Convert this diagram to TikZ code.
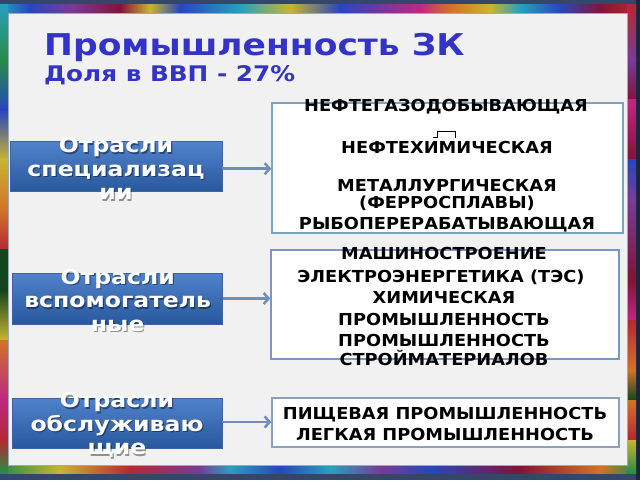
\documentclass[tikz,border=0pt]{standalone}
\usepackage{fontspec}
\newfontfamily\vfont{DejaVu Sans}[FakeStretch=1.15]
\newfontfamily\rfont{DejaVu Sans}[FakeStretch=1.077]
\usetikzlibrary{arrows.meta}
\definecolor{frameDark}{RGB}{52,70,106}
\definecolor{frameNavy}{RGB}{26,37,64}
\definecolor{innerbg}{RGB}{241,241,241}
\definecolor{innerline}{RGB}{150,170,195}
\definecolor{titleblue}{RGB}{51,51,200}
\definecolor{lbTop}{RGB}{80,130,204}
\definecolor{lbBot}{RGB}{40,88,156}
\definecolor{lbLine}{RGB}{60,100,160}
\definecolor{rb1}{RGB}{122,166,194}
\definecolor{rb2}{RGB}{120,150,200}
\definecolor{rb3}{RGB}{140,160,190}
\definecolor{arrowc}{RGB}{111,143,184}
\definecolor{cR}{RGB}{180,40,50}
\definecolor{cDR}{RGB}{130,20,55}
\definecolor{cP}{RGB}{120,60,150}
\definecolor{cM}{RGB}{190,40,130}
\definecolor{cB}{RGB}{40,70,190}
\definecolor{cC}{RGB}{40,160,190}
\definecolor{cG}{RGB}{40,140,70}
\definecolor{cDG}{RGB}{20,70,30}
\definecolor{cY}{RGB}{200,180,50}
\definecolor{cO}{RGB}{210,115,40}
\begin{document}
\begin{tikzpicture}[x=1pt,y=1pt,
  lbox/.style={rectangle, inner sep=0pt, minimum width=211pt, minimum height=50pt,
    top color=lbTop, bottom color=lbBot, draw=lbLine, line width=0.6pt},
  ltext/.style={text=white, font=\vfont\bfseries\fontsize{20.5}{23.5}\selectfont, align=center, inner sep=0pt},
  lshadow/.style={ltext, text=black, opacity=0.4},
  rbox/.style={rectangle, inner sep=0pt, fill=white, line width=1.3pt},
  rtext/.style={font=\rfont\bfseries\fontsize{16.5}{20}\selectfont, anchor=base, inner sep=0pt, text=black},
  arr/.style={draw=arrowc, line width=2.5pt, -{Straight Barb[length=5pt,width=11pt]}}
]
\useasboundingbox (0,0) rectangle (640,480);
% frame
\fill[frameDark] (0,0) rectangle (640,480);
\fill[frameNavy] (636,0) rectangle (640,480);
% top strip
\foreach \a/\b/\ca/\cb in {0/30/cC/cB,30/70/cB/cP,70/120/cP/cDR,120/150/cDR/cY,150/180/cY/cB,180/240/cB/cC,240/290/cC/cY,290/340/cY/cB,340/420/cB/cM,420/450/cM/cO,450/490/cO/cY,490/520/cY/cC,520/560/cC/cB,560/600/cB/cDR,600/636/cDR/cR}
  {\shade[left color=\ca, right color=\cb] (\a,467) rectangle (\b,475);}
% bottom strip
\foreach \a/\b/\ca/\cb in {0/60/cG/cY,60/130/cY/cR,130/200/cR/cP,200/230/cP/cC,230/280/cC/cB,280/330/cB/cC,330/380/cC/cP,380/430/cP/cB,430/520/cB/cDR,520/600/cDR/cO,600/636/cO/cG}
  {\shade[left color=\ca, right color=\cb] (\a,7) rectangle (\b,15);}
% left strip
\foreach \a/\b/\ca/\cb in {5/60/cC/cG,60/110/cG/cB,110/160/cB/cY,160/210/cY/cO,210/250/cO/cR,250/290/cDG/cDG,290/340/cDG/cY,340/400/cO/cM,400/440/cM/cR,440/473/cR/cG}
  {\shade[top color=\ca, bottom color=\cb] (0,{480-\a}) rectangle (8,{480-\b});}
% right strip
\foreach \a/\b/\ca/\cb in {5/60/cR/cP,60/100/cP/cDR,100/160/cM/cDR,160/200/cB/cP,200/280/cP/cDR,280/320/cDR/cM,320/370/cR/cO,370/400/cO/cDG,400/440/cO/cR,440/473/cY/cG}
  {\shade[top color=\ca, bottom color=\cb] (627,{480-\a}) rectangle (636,{480-\b});}
% inner area
\fill[innerbg] (8,15) rectangle (627,467);
\draw[innerline, line width=0.8pt] (8,15) rectangle (627,467);
% title
\node[anchor=base west, inner sep=0pt, text=titleblue, font=\vfont\bfseries\fontsize{30}{36}\selectfont] (title) at (44,424) {Промышленность ЗК};
\node[anchor=base west, inner sep=0pt, text=titleblue, font=\vfont\bfseries\fontsize{21.5}{26}\selectfont] (sub) at (44,398) {Доля в ВВП - 27\%};
% left boxes
\node[lbox, minimum width=212pt] (L1) at (116,313.3) {};
\node[lbox, minimum width=210pt, minimum height=51pt] (L2) at (117.7,181.5) {};
\node[lbox, minimum width=210pt] (L3) at (117,57) {};
\node[lshadow] (T1s) at ([shift={(1.2pt,-3.5pt)}]L1.center) {Отрасли\\специализац\\ии};
\node[ltext] (T1) at ([yshift=-2pt]L1.center) {Отрасли\\специализац\\ии};
\node[lshadow] (T2s) at ([shift={(1.2pt,-3.5pt)}]L2.center) {Отрасли\\вспомогатель\\ные};
\node[ltext] (T2) at ([yshift=-2pt]L2.center) {Отрасли\\вспомогатель\\ные};
\node[lshadow] (T3s) at ([shift={(1.2pt,-3.5pt)}]L3.center) {Отрасли\\обслуживаю\\щие};
\node[ltext] (T3) at ([yshift=-2pt]L3.center) {Отрасли\\обслуживаю\\щие};
% right boxes
\node[rbox, draw=rb1, minimum width=351pt, minimum height=130pt] (R1) at (447.5,312) {};
\node[rbox, draw=rb2, minimum width=348pt, minimum height=109pt] (R2) at (445,175.5) {};
\node[rbox, draw=rb3, minimum width=347pt, minimum height=49pt] (R3) at (445.5,57.5) {};
% right texts
\node[rtext] (r1a) at (446,368) {НЕФТЕГАЗОДОБЫВАЮЩАЯ};
\node[rtext] (r1b) at (447,326) {НЕФТЕХИМИЧЕСКАЯ};
\node[rtext] (r1c) at (447,288) {МЕТАЛЛУРГИЧЕСКАЯ};
\node[rtext] (r1d) at (447,271) {(ФЕРРОСПЛАВЫ)};
\node[rtext] (r1e) at (447,251) {РЫБОПЕРЕРАБАТЫВАЮЩАЯ};
\draw[black, line width=0.9pt] (433,343) -- (437,343) -- (437,349) -- (455,349) -- (455,342);
\node[rtext] (r2a) at (444,220) {МАШИНОСТРОЕНИЕ};
\node[rtext] (r2b) at (441,197) {ЭЛЕКТРОЭНЕРГЕТИКА (ТЭС)};
\node[rtext] (r2c) at (444,177) {ХИМИЧЕСКАЯ};
\node[rtext] (r2d) at (444,155) {ПРОМЫШЛЕННОСТЬ};
\node[rtext] (r2e) at (444,134) {ПРОМЫШЛЕННОСТЬ};
\node[rtext] (r2f) at (444,115) {СТРОЙМАТЕРИАЛОВ};
\node[rtext] (r3a) at (445,61) {ПИЩЕВАЯ ПРОМЫШЛЕННОСТЬ};
\node[rtext] (r3b) at (445,40) {ЛЕГКАЯ ПРОМЫШЛЕННОСТЬ};
% arrows
\draw[arr] ([yshift=-2pt]L1.east) -- ([yshift=-2pt]L1.east -| R1.west);
\draw[arr] (L2.east) -- (L2.east -| R2.west);
\draw[arr] ([yshift=1pt]L3.east) -- ([yshift=1pt]L3.east -| R3.west);
\end{tikzpicture}
\end{document}
